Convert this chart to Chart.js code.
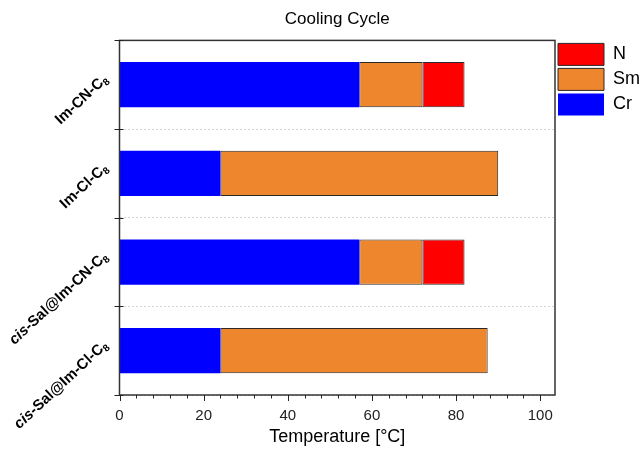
<!DOCTYPE html>
<html>
<head>
<meta charset="utf-8">
<script src="https://cdn.jsdelivr.net/npm/chart.js@4"></script>
<style>
  html, body { margin: 0; padding: 0; background: #fff; }
  #wrap { width: 641px; height: 449px; }
</style>
</head>
<body>
<div id="wrap"><canvas id="chart"></canvas></div>
<script>
const categories = ['Im-CN-C8', 'Im-Cl-C8', 'cis-Sal@Im-CN-C8', 'cis-Sal@Im-Cl-C8'];
// phase ranges on cooling, in °C (upper end of each phase)
const crEnd = [57, 24, 57, 24];
const smEnd = [72, 90, 72, 87.5];
const nEnd = [82, null, 82, null];
const xTicks = [0, 20, 40, 60, 80, 100];

const FONT = 'Arial, "Liberation Sans", sans-serif';

const crData = crEnd;
const smData = smEnd.map((v, i) => v - crEnd[i]);
const nData = nEnd.map((v, i) => v == null ? null : v - smEnd[i]);

const axesPlugin = {
  id: 'axesPlugin',
  afterDatasetsDraw(chart) {
    const { ctx, chartArea: a, scales: { x, y } } = chart;
    ctx.save();
    // frame
    ctx.strokeStyle = '#333';
    ctx.lineWidth = 1.5;
    ctx.strokeRect(a.left, a.top, a.right - a.left, a.bottom - a.top);

    // x ticks, major every 20, minor every 4
    ctx.lineWidth = 1;
    ctx.strokeStyle = '#222';
    for (let v = 0; v <= 100; v += 4) {
      const px = Math.round(x.getPixelForValue(v)) + 0.5;
      const major = xTicks.includes(v);
      ctx.beginPath();
      ctx.moveTo(px, a.bottom);
      ctx.lineTo(px, a.bottom + (major ? 6 : 3.5));
      ctx.stroke();
    }
    // y ticks between categories
    for (let i = 0; i <= categories.length; i++) {
      const py = Math.round(y.getPixelForValue(i - 0.5)) + 0.5;
      ctx.beginPath();
      ctx.moveTo(a.left - 5, py);
      ctx.lineTo(a.left + 4, py);
      ctx.stroke();
    }

    // rotated category labels with italic "cis" and subscript
    ctx.fillStyle = '#000';
    categories.forEach((lab, i) => {
      const py = y.getPixelForValue(i);
      let parts = [];
      let rest = lab;
      if (rest.startsWith('cis')) {
        parts.push({ t: 'cis', f: 'italic bold 15px ' + FONT, dy: 5 });
        rest = rest.slice(3);
      }
      const sub = rest.slice(-1);
      parts.push({ t: rest.slice(0, -1), f: 'bold 15px ' + FONT, dy: 5 });
      parts.push({ t: sub, f: 'bold 10px ' + FONT, dy: 8 });
      let total = 0;
      parts.forEach(p => { ctx.font = p.f; p.w = ctx.measureText(p.t).width; total += p.w; });
      ctx.save();
      ctx.translate(105, py - 8);
      ctx.rotate(-43 * Math.PI / 180);
      ctx.textAlign = 'left';
      ctx.textBaseline = 'alphabetic';
      let cx = -total;
      parts.forEach(p => {
        ctx.font = p.f;
        ctx.fillText(p.t, cx, p.dy);
        cx += p.w;
      });
      ctx.restore();
    });
    ctx.restore();
  }
};

new Chart(document.getElementById('chart'), {
  type: 'bar',
  data: {
    labels: categories,
    datasets: [
      { label: 'Cr', data: crData, backgroundColor: '#0000ff', borderColor: '#0000ff', borderWidth: 0 },
      { label: 'Sm', data: smData, backgroundColor: '#ee862d', borderColor: '#2a2a2a', borderWidth: 1 },
      { label: 'N', data: nData, backgroundColor: '#ff0000', borderColor: '#2a2a2a', borderWidth: 1 }
    ]
  },
  options: {
    indexAxis: 'y',
    responsive: true,
    maintainAspectRatio: false,
    animation: false,
    layout: { padding: { left: 0, right: -9, top: 0, bottom: 0 } },
    datasets: {
      bar: { barPercentage: 0.51, categoryPercentage: 1, borderSkipped: false }
    },
    plugins: {
      title: {
        display: true,
        text: 'Cooling Cycle',
        fullSize: false,
        color: '#000',
        font: { family: FONT, size: 17, weight: 'normal' },
        padding: { top: 9, bottom: 11 }
      },
      legend: {
        position: 'right',
        align: 'start',
        reverse: true,
        fullSize: false,
        labels: {
          boxWidth: 46,
          boxHeight: 22,
          padding: 3,
          color: '#000',
          font: { family: FONT, size: 18 }
        }
      },
      tooltip: { enabled: false }
    },
    scales: {
      x: {
        stacked: true,
        min: 0,
        max: 103.5,
        afterFit: s => { s.height = 54; },
        border: { display: false },
        grid: { display: true, drawOnChartArea: false, drawTicks: true, tickLength: 5, color: 'rgba(0,0,0,0)' },
        ticks: {
          stepSize: 20,
          includeBounds: false,
          padding: 7,
          color: '#222',
          font: { family: FONT, size: 15 }
        },
        title: {
          display: true,
          text: 'Temperature [°C]',
          color: '#000',
          font: { family: FONT, size: 18 },
          padding: { top: 0, bottom: 1 }
        }
      },
      y: {
        stacked: true,
        afterFit: s => { s.width = 119.5; },
        ticks: { display: false },
        grid: {
          offset: true,
          drawTicks: false,
          color: '#d4d4d4',
          lineWidth: 1
        },
        border: { display: false, dash: [2, 2] }
      }
    }
  },
  plugins: [axesPlugin]
});
</script>
</body>
</html>
